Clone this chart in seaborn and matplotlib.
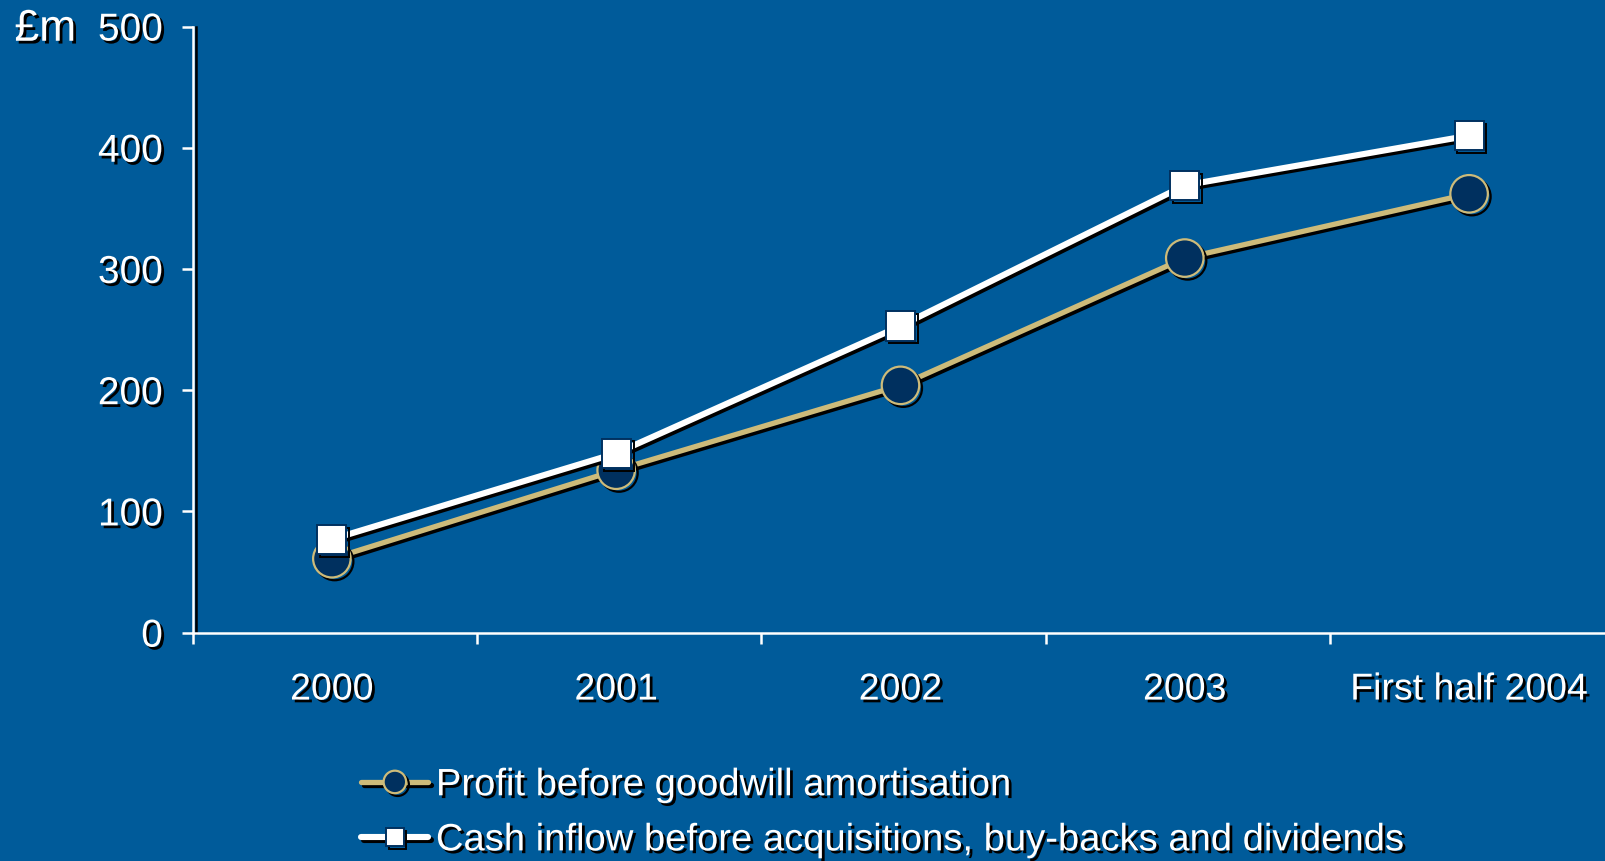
import matplotlib
matplotlib.use("Agg")
import matplotlib.pyplot as plt
import matplotlib.patheffects as pe
import seaborn as sns
import pandas as pd

periods = ["2000", "2001", "2002", "2003", "First half 2004"]
profit = [61, 134, 204, 309, 362]
cash = [77, 148, 253, 369, 410]
profit_label = "Profit before goodwill amortisation"
cash_label = "Cash inflow before acquisitions, buy-backs and dividends"
y_ticks = [0, 100, 200, 300, 400, 500]

BG = "#005B9A"
NAVY = "#00305F"
GOLD = "#CDBB7A"

sns.set_theme(style="white")
plt.rcParams["font.family"] = ["Liberation Sans", "DejaVu Sans"]

fig = plt.figure(figsize=(16.05, 8.61), dpi=100, facecolor=BG)
# the plot area runs slightly past the right edge of the figure
ax = fig.add_axes([0.1205, 0.2652, 0.8857, 0.704])
ax.set_facecolor(BG)

df = pd.DataFrame({"period": periods, "profit": profit, "cash": cash})
line_fx = [pe.SimpleLineShadow(offset=(2, -2), shadow_color="black", alpha=1), pe.Normal()]

sns.lineplot(data=df, x="period", y="profit", ax=ax, sort=False, color=GOLD,
             linewidth=3.8, marker="o", markersize=27, markerfacecolor=NAVY,
             markeredgecolor=GOLD, markeredgewidth=1.6, label=profit_label, zorder=3)
sns.lineplot(data=df, x="period", y="cash", ax=ax, sort=False, color="white",
             linewidth=4.4, marker="s", markersize=21, markerfacecolor="white",
             markeredgecolor=NAVY, markeredgewidth=1.4, label=cash_label, zorder=4)
for ln in ax.lines:
    ln.set_path_effects(line_fx)

ax.set_xlim(-0.487, 4.513)
ax.set_ylim(0, 500)
ax.set_yticks(y_ticks)
ax.set_xticks(range(len(periods)))
ax.set_xticks([-0.487] + [i + 0.511 for i in range(len(periods) - 1)], minor=True)
ax.set_xlabel("")
ax.set_ylabel("")

txt_fx = [pe.withSimplePatchShadow(offset=(2, -2), shadow_rgbFace="black", alpha=1)]

ax.tick_params(axis="y", which="major", direction="out", length=8, width=1.8,
               color="white", labelcolor="white", labelsize=28, pad=14, left=True)
ax.tick_params(axis="x", which="major", length=0, labelcolor="white",
               labelsize=27, pad=28)
ax.tick_params(axis="x", which="minor", direction="out", length=8, width=1.8,
               color="white", bottom=True)
for lab in ax.get_xticklabels() + ax.get_yticklabels():
    lab.set_path_effects(txt_fx)

for side in ["top", "right"]:
    ax.spines[side].set_visible(False)
for side in ["left", "bottom"]:
    ax.spines[side].set_color("white")
    ax.spines[side].set_linewidth(1.8)
ax.spines["left"].set_path_effects(
    [pe.SimpleLineShadow(offset=(2, 0), shadow_color="black", alpha=1), pe.Normal()])

fig.text(0.009, 0.966, "£m", color="white", fontsize=32, va="center", ha="left",
         path_effects=txt_fx)

leg = ax.legend(loc="upper left", bbox_to_anchor=(0.2133, 0.131),
                bbox_transform=fig.transFigure, frameon=False, fontsize=27.5,
                handlelength=1.75, handletextpad=0.2, labelspacing=0.5,
                borderpad=0, markerscale=0.6)
for t in leg.get_texts():
    t.set_color("white")
    t.set_path_effects(txt_fx)

fig.savefig("out.png", dpi=100, facecolor=BG)
